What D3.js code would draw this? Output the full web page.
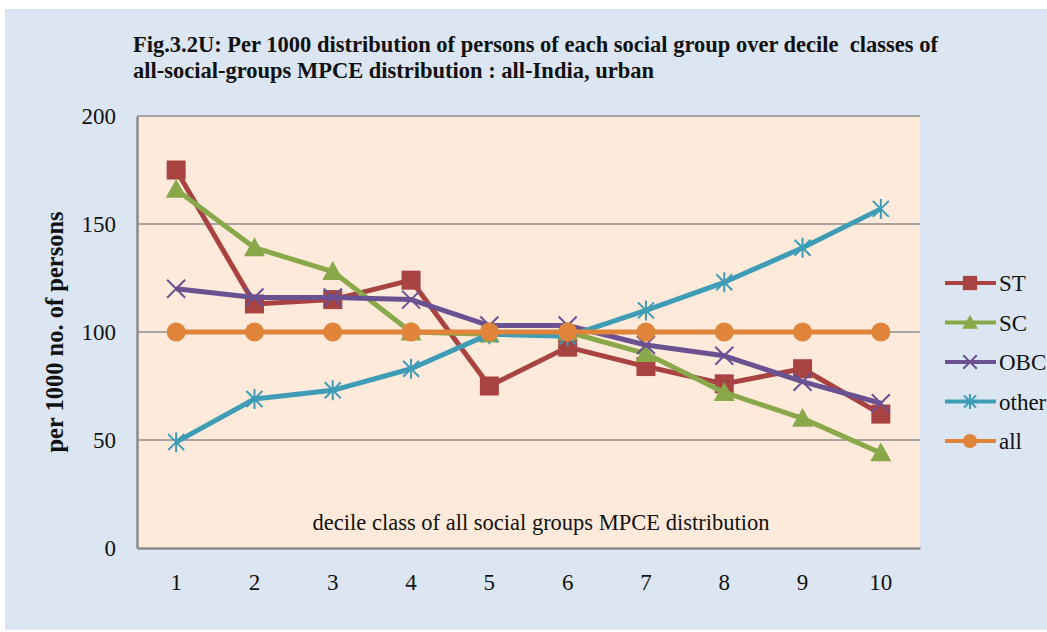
<!DOCTYPE html>
<html>
<head>
<style>
  body { margin: 0; background: #ffffff; }
  text { font-family: "Liberation Serif", "Times New Roman", serif; }
</style>
</head>
<body>
<script src="https://cdn.jsdelivr.net/npm/d3@7"></script>
<script>
var deciles = ['1', '2', '3', '4', '5', '6', '7', '8', '9', '10'];
var yTicks = [0, 50, 100, 150, 200];
var stValues    = [175, 113, 115, 124, 75, 93, 84, 76, 83, 62];
var scValues    = [166, 139, 128, 100, 99, 100, 90, 72, 60, 44];
var obcValues   = [120, 116, 116, 115, 103, 103, 94, 89, 77, 67];
var otherValues = [49, 69, 73, 83, 99, 98, 110, 123, 139, 157];
var allValues   = [100, 100, 100, 100, 100, 100, 100, 100, 100, 100];

var series = [
  { name: 'ST', values: stValues, color: '#A84341', marker: 'square' },
  { name: 'SC', values: scValues, color: '#88A84A', marker: 'triangle' },
  { name: 'OBC', values: obcValues, color: '#6A5192', marker: 'cross' },
  { name: 'other', values: otherValues, color: '#3E9CB6', marker: 'star' },
  { name: 'all', values: allValues, color: '#E0843A', marker: 'circle' }
];

var width = 1047, height = 632;
var plot = { left: 137, top: 116, right: 920, bottom: 548 };

var svg = d3.select('body').append('svg')
  .attr('width', width).attr('height', height);

svg.append('rect')
  .attr('x', 5).attr('y', 9).attr('width', width - 5).attr('height', 621)
  .attr('fill', '#DCE6F2');

svg.append('rect')
  .attr('x', plot.left).attr('y', plot.top)
  .attr('width', plot.right - plot.left).attr('height', plot.bottom - plot.top)
  .attr('fill', '#FDEADA');

var x = d3.scaleBand().domain(deciles).range([plot.left, plot.right]);
var y = d3.scaleLinear().domain([0, 200]).range([plot.bottom, plot.top]);

// gridlines
svg.append('g').selectAll('line').data(yTicks.slice(1)).enter().append('line')
  .attr('x1', plot.left).attr('x2', plot.right)
  .attr('y1', function (d) { return y(d); }).attr('y2', function (d) { return y(d); })
  .attr('stroke', '#8C8C8C').attr('stroke-width', 1.5);

// axes
var yAxis = svg.append('g')
  .attr('transform', 'translate(' + plot.left + ',0)')
  .call(d3.axisLeft(y).tickValues(yTicks).tickSize(0).tickPadding(21));
yAxis.select('.domain').attr('stroke', '#8C8C8C').attr('stroke-width', 2.5);
yAxis.selectAll('text').attr('font-size', 23).attr('fill', '#111')
  .style('font-family', '"Liberation Serif", serif');

var xAxis = svg.append('g')
  .attr('transform', 'translate(0,' + plot.bottom + ')')
  .call(d3.axisBottom(x).tickSize(0).tickPadding(26));
xAxis.select('.domain').attr('stroke', '#8C8C8C').attr('stroke-width', 2.5);
xAxis.selectAll('text').attr('font-size', 23).attr('fill', '#111')
  .style('font-family', '"Liberation Serif", serif');

function cx(i) { return x(deciles[i]) + x.bandwidth() / 2; }

function drawMarker(g, type, color, px, py, scale) {
  var s = scale || 1;
  if (type === 'square') {
    g.append('rect').attr('x', px - 9.5 * s).attr('y', py - 9.5 * s)
      .attr('width', 19 * s).attr('height', 19 * s).attr('fill', color);
  } else if (type === 'triangle') {
    var h = 10.5 * s;
    g.append('path')
      .attr('d', 'M' + px + ',' + (py - h) + 'L' + (px + h) + ',' + (py + h * 0.8) +
        'L' + (px - h) + ',' + (py + h * 0.8) + 'Z')
      .attr('fill', color);
  } else if (type === 'circle') {
    g.append('circle').attr('cx', px).attr('cy', py).attr('r', 9.5 * s).attr('fill', color);
  } else if (type === 'cross') {
    var c = 9 * s;
    g.append('path')
      .attr('d', 'M' + (px - c) + ',' + (py - c) + 'L' + (px + c) + ',' + (py + c) +
        'M' + (px + c) + ',' + (py - c) + 'L' + (px - c) + ',' + (py + c))
      .attr('stroke', color).attr('stroke-width', 2).attr('fill', 'none');
  } else if (type === 'star') {
    var a = 8 * s;
    g.append('path')
      .attr('d', 'M' + (px - a) + ',' + (py - a) + 'L' + (px + a) + ',' + (py + a) +
        'M' + (px + a) + ',' + (py - a) + 'L' + (px - a) + ',' + (py + a) +
        'M' + px + ',' + (py - a * 1.25) + 'L' + px + ',' + (py + a * 1.25))
      .attr('stroke', color).attr('stroke-width', 2).attr('fill', 'none');
  }
}

var line = d3.line()
  .x(function (d, i) { return cx(i); })
  .y(function (d) { return y(d); });

series.forEach(function (s) {
  var g = svg.append('g');
  g.append('path').datum(s.values)
    .attr('d', line).attr('fill', 'none')
    .attr('stroke', s.color).attr('stroke-width', 5)
    .attr('stroke-linejoin', 'round');
  s.values.forEach(function (v, i) {
    drawMarker(g, s.marker, s.color, cx(i), y(v));
  });
});

// in-plot axis title
svg.append('text')
  .attr('x', 541).attr('y', 530)
  .attr('text-anchor', 'middle').attr('font-size', 22.5).attr('fill', '#111')
  .text('decile class of all social groups MPCE distribution');

// y axis title
svg.append('text')
  .attr('transform', 'translate(63,' + ((plot.top + plot.bottom) / 2) + ') rotate(-90)')
  .attr('text-anchor', 'middle').attr('font-size', 24.5).attr('font-weight', 'bold')
  .attr('fill', '#111')
  .text('per 1000 no. of persons');

// title
var title = svg.append('text').attr('font-size', 22.5).attr('font-weight', 'bold').attr('fill', '#111');
title.append('tspan').attr('x', 133).attr('y', 52)
  .text('Fig.3.2U: Per 1000 distribution of persons of each social group over decile  classes of')
  .attr('xml:space', 'preserve');
title.append('tspan').attr('x', 133).attr('y', 78)
  .text('all-social-groups MPCE distribution : all-India, urban');

// legend
var legend = svg.append('g');
series.forEach(function (s, i) {
  var ly = 283 + i * 39.5;
  legend.append('line')
    .attr('x1', 945).attr('x2', 996).attr('y1', ly).attr('y2', ly)
    .attr('stroke', s.color).attr('stroke-width', 4);
  drawMarker(legend, s.marker, s.color, 970, ly, 0.75);
  legend.append('text')
    .attr('x', 999).attr('y', ly + 8).attr('font-size', 23).attr('fill', '#111')
    .text(s.name);
});
</script>
</body>
</html>
